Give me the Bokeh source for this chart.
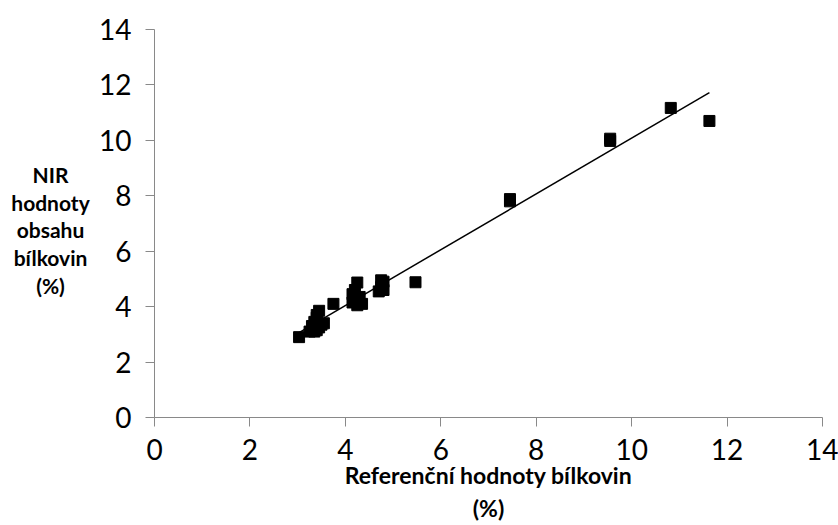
import numpy as np
from bokeh.plotting import figure
from bokeh.layouts import row
from bokeh.models import Range1d, FixedTicker, ColumnDataSource
from bokeh.core.properties import value
from bokeh.embed import file_html
from bokeh.resources import INLINE

# Reference protein values (%) and NIR-predicted values (%)
ref_x = [3.03, 3.25, 3.30, 3.35, 3.35, 3.40, 3.40, 3.45, 3.45, 3.50, 3.55, 3.40,
         3.75, 4.15, 4.15, 4.20, 4.20, 4.25, 4.25, 4.30, 4.35,
         4.70, 4.75, 4.75, 4.80, 4.80, 5.47, 7.45, 7.45, 9.55, 9.55, 10.82, 11.63]
nir_y = [2.90, 3.10, 3.30, 3.10, 3.45, 3.60, 3.15, 3.85, 3.25, 3.35, 3.40, 3.70,
         4.10, 4.15, 4.45, 4.30, 4.60, 4.87, 4.05, 4.35, 4.10,
         4.55, 4.95, 4.70, 4.90, 4.60, 4.88, 7.80, 7.88, 9.98, 10.06, 11.17, 10.70]

ticks = [0, 2, 4, 6, 8, 10, 12, 14]
x_title_lines = ["Referenční hodnoty bílkovin", "(%)"]
y_title_lines = ["NIR", "hodnoty", "obsahu", "bílkovin", "(%)"]

FONT = "Lato"
AXIS_GRAY = "#898989"

W, H = 838, 525
YLAB_W = 95
F_LEFT, F_RIGHT, F_TOP, F_BOTTOM = 154, 822, 29, 418

# ---- main scatter plot ----
p = figure(width=W - YLAB_W, height=H, output_backend="svg", toolbar_location=None,
           x_range=Range1d(0, 14), y_range=Range1d(0, 14),
           min_border_left=F_LEFT - YLAB_W, min_border_right=W - F_RIGHT,
           min_border_top=F_TOP, min_border_bottom=H - F_BOTTOM)
p.outline_line_color = None
p.grid.visible = False

for ax in (p.xaxis[0], p.yaxis[0]):
    ax.ticker = FixedTicker(ticks=ticks)
    ax.axis_line_color = AXIS_GRAY
    ax.major_tick_line_color = AXIS_GRAY
    ax.axis_line_width = 1
    ax.major_tick_out = 9
    ax.major_tick_in = 0
    ax.minor_tick_line_color = None
    ax.major_label_text_font = FONT
    ax.major_label_text_font_size = "28px"
    ax.major_label_text_color = "black"
p.xaxis[0].major_label_standoff = 12
p.yaxis[0].major_label_standoff = 14

p.xaxis[0].axis_label = "\n".join(x_title_lines)
p.xaxis[0].axis_label_text_font = FONT
p.xaxis[0].axis_label_text_font_style = "bold"
p.xaxis[0].axis_label_text_font_size = "23px"
p.xaxis[0].axis_label_text_color = "black"
p.xaxis[0].axis_label_text_line_height = 1.2
p.xaxis[0].axis_label_standoff = -2

xs = np.array(ref_x)
ys = np.array(nir_y)
k, q = np.polyfit(xs, ys, 1)
lx = [float(xs.min()), float(xs.max())]
ly = [k * v + q for v in lx]
p.line(lx, ly, line_color="black", line_width=1.5)

src = ColumnDataSource(dict(x=ref_x, y=nir_y))
p.scatter("x", "y", source=src, marker="square", size=11,
          fill_color="black", line_color="black")

# ---- y-axis title panel (horizontal, centred lines); frame matches main frame ----
yl = figure(width=YLAB_W, height=H, output_backend="svg", toolbar_location=None,
            x_range=Range1d(0, YLAB_W), y_range=Range1d(F_BOTTOM, F_TOP),
            x_axis_location=None, y_axis_location=None,
            min_border_left=0, min_border_right=0,
            min_border_top=F_TOP, min_border_bottom=H - F_BOTTOM)
yl.outline_line_color = None
yl.grid.visible = False
y_base = [174, 202, 230, 258, 286]
yl.text(x=[50] * len(y_title_lines), y=y_base, text=y_title_lines,
        text_align="center", text_baseline="alphabetic",
        text_font=value(FONT), text_font_style="bold", text_font_size="21px",
        text_color="black")

layout = row(yl, p, spacing=0)
open("out.html", "w").write(file_html(layout, INLINE))
